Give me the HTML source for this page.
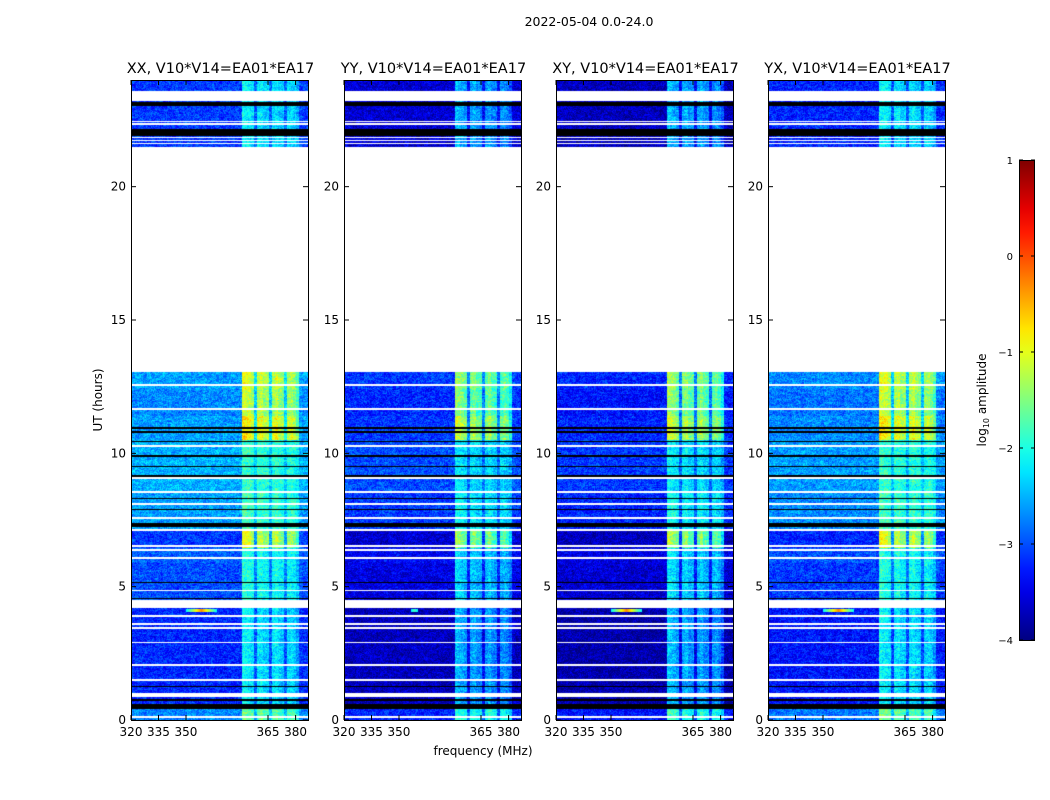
<!DOCTYPE html>
<html><head><meta charset="utf-8">
<style>
body{margin:0;background:#fff;width:1050px;height:800px;position:relative;overflow:hidden;font-family:"DejaVu Sans","Liberation Sans",sans-serif;}
canvas{position:absolute;}
svg{position:absolute;left:0;top:0;font-family:"DejaVu Sans","Liberation Sans",sans-serif;}
</style></head>
<body>
<div>
<svg id="ov" width="1050" height="800"></svg>
</div>
<script>
// ---- data ----
const panelTitles = ["XX, V10*V14=EA01*EA17","YY, V10*V14=EA01*EA17","XY, V10*V14=EA01*EA17","YX, V10*V14=EA01*EA17"];
const panelBaseOffset = [0, -0.5, -0.6, -0.1];
const panelBandOffset = [0, -0.35, -0.3, 0];
// time segments [t0, t1, background log amp, band log amp]
const segStart = [0, 0.4, 4.5, 5.9, 6.45, 7.1, 8.6, 10.5, 11.4, 12.4, 21.5];
const segEnd   = [0.4, 4.2, 5.9, 6.45, 7.1, 8.6, 10.5, 11.4, 12.4, 13.05, 24];
const segBase  = [-2.7, -3.2, -3.0, -2.9, -3.1, -2.6, -2.5, -2.6, -2.7, -2.6, -3.1];
const segBand  = [-1.6, -2.2, -2.0, -2.0, -1.1, -1.8, -1.9, -0.9, -1.2, -1.1, -2.2];
// no-data (white) intervals [t0,t1]
const whiteGaps = [[13.05,21.5],[23.2,23.6],[4.27,4.5],[0.86,1.01],[6.35,6.42],
 [12.54,12.59],[11.64,11.69],[10.25,10.3],[9.05,9.1],[8.53,8.58],[8.08,8.13],[7.55,7.6],[7.1,7.15],[6.5,6.55],[6.05,6.1],[4.82,4.87],[3.88,3.93],[3.58,3.63],[3.43,3.48],[2.87,2.92],[2.04,2.09],[1.48,1.53],[0.09,0.14],
 [22.43,22.48],[22.32,22.37],[21.83,21.87],[21.71,21.75],[21.6,21.64]];
// flagged (black) intervals
const blackGaps = [[23.03,23.17],[21.9,22.15],[10.93,10.97],[10.78,10.82],[10.44,10.48],[9.88,9.92],[9.47,9.51],[9.13,9.17],[8.3,8.34],[7.89,7.93],[7.24,7.39],[5.12,5.16],[4.55,4.59],[1.25,1.29],[0.71,0.79],[0.41,0.6]];
// frequency channel profile (fraction of band amplitude), 59 channels
const chanProfile = [0,0,0,0,0,0,0,0,0,0,0,0,0,0,0,0,0,0,0,0,0,0,0,0,0,0,0,0,0,0,0,0,0,0,0,0,0,
 1.1,1.05,1.0,0.9,0.25, 0.95,1.0,0.85,0.85,0.25, 0.9,1.0,0.85,0.8,0.25, 0.85,0.9,0.8,0.6,0.05,0,0];
const xTickLabels = [320,335,350,365,380];
const yTickLabels = [0,5,10,15,20];
const cbTicks = [1,0,-1,-2,-3,-4];

// ---- layout ----
const PL=[131,344,556,768], PT=80, PW=177, PH=640, TMAX=24;
const yOf = t => PT + PH - t/TMAX*PH;
const xOfF = f => f<=357 ? (f-320)*1.833 : 137+(f-365)*1.84;
function jet(v){
  const r=Math.min(Math.max(Math.min(4*v-1.5,-4*v+4.5),0),1);
  const g=Math.min(Math.max(Math.min(4*v-0.5,-4*v+3.5),0),1);
  const b=Math.min(Math.max(Math.min(4*v+0.5,-4*v+2.5),0),1);
  return [r*255,g*255,b*255];
}
function hash(a,b,c){let h=(a*374761393+b*668265263+c*2147483647)|0;h=(h^(h>>>13))*1274126177|0;return ((h^(h>>>16))>>>0)/4294967296;}
function inGaps(g,t){for(const [a,b] of g){if(t>=a&&t<b)return true;}return false;}

const ov=document.getElementById('ov');
const NS='http://www.w3.org/2000/svg';
function el(tag,attrs,txt){const e=document.createElementNS(NS,tag);for(const k in attrs)e.setAttribute(k,attrs[k]);if(txt!==undefined)e.textContent=txt;ov.appendChild(e);return e;}

PL.forEach((L,p)=>{
  const cv=document.createElement('canvas');
  cv.width=PW;cv.height=PH;cv.style.left=L+'px';cv.style.top=PT+'px';
  
  
  document.body.insertBefore(cv,ov.parentNode);
  const ctx=cv.getContext('2d');const img=ctx.createImageData(PW,PH);
  for(let y=0;y<PH;y++){
    const t=(PH-y-0.5)/PH*TMAX;
    let mode='w';
    if(inGaps(blackGaps,t))mode='b';
    else if(!inGaps(whiteGaps,t)){
      for(let s=0;s<segStart.length;s++){ if(t>=segStart[s]&&t<segEnd[s]){mode=s;break;} }
    }
    for(let x=0;x<PW;x++){
      const i=(y*PW+x)*4;let c;
      if(mode==='w')c=[255,255,255];
      else if(mode==='b')c=[0,0,0];
      else{
        const ch=Math.min(chanProfile.length-1,Math.floor(x/3));
        const base=segBase[mode]+panelBaseOffset[p], band=segBand[mode]+panelBandOffset[p];
        let v=base+chanProfile[ch]*(band-base)+(hash(x,y,p)-0.5)*0.6+(hash(x>>2,y>>1,p+7)-0.5)*0.3;
        const dt=Math.abs(t-4.1), dx=Math.abs(x-70);
        if(dt<0.05&&dx<(p===1?4:16)) v=Math.max(v,(p===1?-1.8:-0.3)-dx*0.12);
        v=(v+4)/5;v=Math.max(0,Math.min(1,v));c=jet(v);
      }
      img.data[i]=c[0];img.data[i+1]=c[1];img.data[i+2]=c[2];img.data[i+3]=255;
    }
  }
  ctx.putImageData(img,0,0);
  const fr=el('rect',{x:L+0.5,y:PT+0.5,width:PW,height:PH,fill:'none',stroke:'#000','stroke-width':1});
  
  const tt=el('text',{x:L+PW/2+1,y:73,'text-anchor':'middle','font-size':14.5},panelTitles[p]);
  
  yTickLabels.forEach(v=>{
    const y=yOf(v);
    el('line',{x1:L,x2:L+5,y1:y,y2:y,stroke:'#000'});
    el('line',{x1:L+PW-5,x2:L+PW,y1:y,y2:y,stroke:'#000'});
    const tl=el('text',{x:L-5,y:y+4,'text-anchor':'end','font-size':12},String(v));
    
  });
  xTickLabels.forEach(f=>{
    const x=L+xOfF(f);
    el('line',{x1:x,x2:x,y1:PT+PH-5,y2:PT+PH,stroke:'#000'});
    el('line',{x1:x,x2:x,y1:PT,y2:PT+5,stroke:'#000'});
    const tl=el('text',{x:x,y:736,'text-anchor':'middle','font-size':12},String(f));
    
  });
});
const st=el('text',{x:589,y:26,'text-anchor':'middle','font-size':12.5},'2022-05-04 0.0-24.0');

const yt=el('text',{x:102,y:400,'text-anchor':'middle','font-size':12,transform:'rotate(-90 102 400)'},'UT (hours)');

const xt=el('text',{x:483,y:755,'text-anchor':'middle','font-size':12},'frequency (MHz)');


const defs=el('defs',{});const gr=document.createElementNS(NS,'linearGradient');
gr.setAttribute('id','jetg');gr.setAttribute('x1','0');gr.setAttribute('y1','1');gr.setAttribute('x2','0');gr.setAttribute('y2','0');
for(let k=0;k<=20;k++){const c=jet(k/20);const s=document.createElementNS(NS,'stop');s.setAttribute('offset',k/20);s.setAttribute('stop-color',`rgb(${c.map(Math.round).join(',')})`);gr.appendChild(s);}
defs.appendChild(gr);
const cb=el('rect',{x:1019.5,y:160.5,width:15,height:480,fill:'url(#jetg)',stroke:'#000'});

cbTicks.forEach(v=>{
  const y=160+(1-v)/5*480;
  el('line',{x1:1019,x2:1023,y1:y,y2:y,stroke:'#000'});
  el('line',{x1:1031,x2:1035,y1:y,y2:y,stroke:'#000'});
  const tl=el('text',{x:1013,y:y+4,'text-anchor':'end','font-size':10},v<0?'\u2212'+(-v):String(v));
  
});
const cl=el('text',{x:986,y:400,'text-anchor':'middle','font-size':12,transform:'rotate(-90 986 400)'});

cl.innerHTML='log<tspan font-size="8" dy="3">10</tspan><tspan dy="-3"> amplitude</tspan>';
</script>
</body></html>
